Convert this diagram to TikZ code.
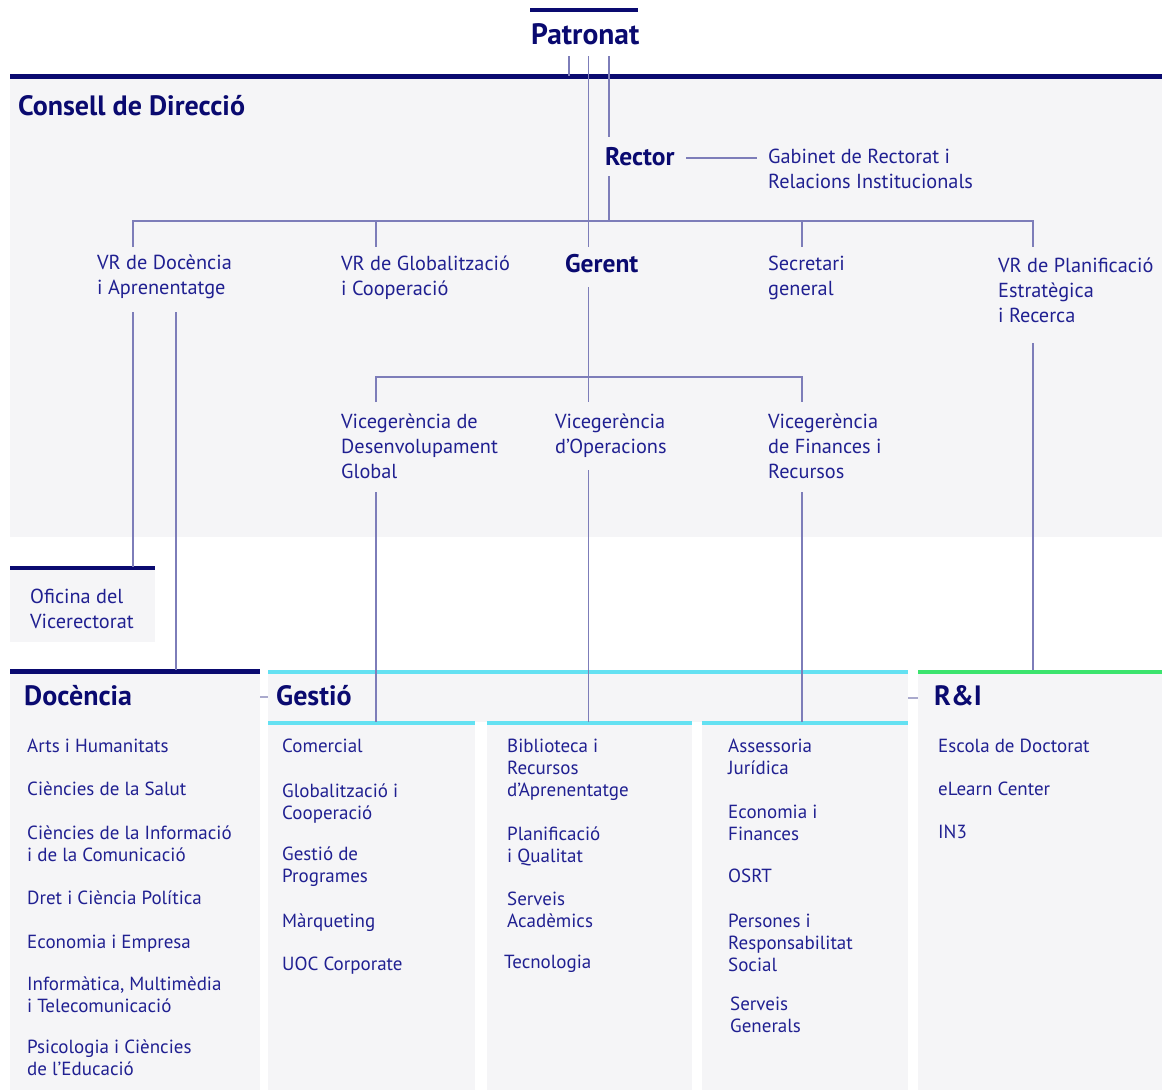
\documentclass[tikz,border=0pt]{standalone}
\usepackage{fontspec}
\setmainfont{PT Sans}
\definecolor{navy}{RGB}{10,10,112}
\definecolor{txtblue}{RGB}{32,32,145}
\definecolor{linec}{RGB}{125,125,185}
\definecolor{bgc}{RGB}{245,245,247}
\definecolor{cyanc}{RGB}{100,225,242}
\definecolor{greenc}{RGB}{60,228,110}
\definecolor{dashc}{RGB}{170,170,205}
\newcommand\ml[1]{\begin{tabular}[t]{@{}l@{}}#1\end{tabular}}
\begin{document}
\begin{tikzpicture}[x=1pt,y=-1pt,
  txt/.style={anchor=base west, inner sep=0pt, text=txtblue, font=\fontsize{20.3}{25}\selectfont},
  itm/.style={anchor=base west, inner sep=0pt, text=txtblue, font=\fontsize{19}{22}\selectfont},
  head/.style={anchor=base west, inner sep=0pt, text=navy, font=\bfseries\fontsize{28}{32}\selectfont},
  sub/.style={anchor=base west, inner sep=0pt, text=navy, font=\bfseries\fontsize{25.5}{28}\selectfont},
  conn/.style={draw=linec, line width=1.2pt},
  navybar/.style={draw=navy, line width=4.5pt},
  cyanbar/.style={draw=cyanc, line width=4.5pt},
  greenbar/.style={draw=greenc, line width=4.5pt},
  sep/.style={draw=dashc, line width=1.5pt},
  panel/.style={fill=bgc}]
\useasboundingbox (0,0) rectangle (1162,1092);
% backgrounds
\fill[panel] (10,78) rectangle (1162,537);
\fill[panel] (10,570) rectangle (155,642);
\fill[panel] (10,673) rectangle (260,1090);
\fill[panel] (268,673) rectangle (908,722);
\fill[panel] (268,724) rectangle (475,1090);
\fill[panel] (487,724) rectangle (692,1090);
\fill[panel] (702,724) rectangle (908,1090);
\fill[panel] (918,673) rectangle (1162,1090);
% bars
\draw[navybar] (530,10) -- (638,10);
\draw[navybar] (10,76.5) -- (1162,76.5);
\draw[navybar] (10,568) -- (155,568);
\draw[navybar] (10,671.5) -- (260,671.5);
\draw[cyanbar] (268,672) -- (908,672);
\draw[cyanbar] (268,723) -- (475,723);
\draw[cyanbar] (487,723) -- (692,723);
\draw[cyanbar] (702,723) -- (908,723);
\draw[greenbar] (918,672) -- (1162,672);
\draw[sep] (260,697) -- (268,697);
\draw[sep] (908,698) -- (918,698);
% headings
\node[head, font=\bfseries\fontsize{29.5}{32}\selectfont] (patronat) at (531,44) {Patronat};
\node[head] (consell) at (18,115) {Consell de Direcció};
\node[sub] (rector) at (605,165) {Rector};
\node[sub] (gerent) at (565,272) {Gerent};
\node[head] (docencia) at (24,705) {Docència};
\node[head] (gestio) at (276,705) {Gestió};
\node[head] (ri) at (934,705) {R\&I};
% upper texts
\node[txt] (gabinet) at (768,163) {\ml{Gabinet de Rectorat i\\Relacions Institucionals}};
\node[txt] (vrdoc) at (97,269) {\ml{VR de Docència\\i Aprenentatge}};
\node[txt] (vrglob) at (341,270) {\ml{VR de Globalització\\i Cooperació}};
\node[txt] (secretari) at (768,270) {\ml{Secretari\\general}};
\node[txt] (vrplan) at (998,272) {\ml{VR de Planificació\\Estratègica\\i Recerca}};
\node[txt] (vgdes) at (341,428) {\ml{Vicegerència de\\Desenvolupament\\Global}};
\node[txt] (vgop) at (555,428) {\ml{Vicegerència\\d’Operacions}};
\node[txt] (vgfin) at (768,428) {\ml{Vicegerència\\de Finances i\\Recursos}};
\node[txt] (oficina) at (30,603) {\ml{Oficina del\\Vicerectorat}};
% Docencia items
\node[itm] (d1) at (27,752) {Arts i Humanitats};
\node[itm] (d2) at (27,795) {Ciències de la Salut};
\node[itm] (d3) at (27,839) {\ml{Ciències de la Informació\\i de la Comunicació}};
\node[itm] (d4) at (27,904) {Dret i Ciència Política};
\node[itm] (d5) at (27,948) {Economia i Empresa};
\node[itm] (d6) at (27,990) {\ml{Informàtica, Multimèdia\\i Telecomunicació}};
\node[itm] (d7) at (27,1053) {\ml{Psicologia i Ciències\\de l’Educació}};
% Gestio col 1
\node[itm] (g1) at (282,752) {Comercial};
\node[itm] (g2) at (282,797) {\ml{Globalització i\\Cooperació}};
\node[itm] (g3) at (282,860) {\ml{Gestió de\\Programes}};
\node[itm] (g4) at (282,927) {Màrqueting};
\node[itm] (g5) at (282,970) {UOC Corporate};
% Gestio col 2
\node[itm] (o1) at (507,752) {\ml{Biblioteca i\\Recursos\\d’Aprenentatge}};
\node[itm] (o2) at (507,840) {\ml{Planificació\\i Qualitat}};
\node[itm] (o3) at (507,905) {\ml{Serveis\\Acadèmics}};
\node[itm] (o4) at (504,968) {Tecnologia};
% Gestio col 3
\node[itm] (f1) at (728,752) {\ml{Assessoria\\Jurídica}};
\node[itm] (f2) at (728,818) {\ml{Economia i\\Finances}};
\node[itm] (f3) at (728,882) {OSRT};
\node[itm] (f4) at (728,927) {\ml{Persones i\\Responsabilitat\\Social}};
\node[itm] (f5) at (730,1010) {\ml{Serveis\\Generals}};
% R&I
\node[itm] (r1) at (938,752) {Escola de Doctorat};
\node[itm] (r2) at (938,795) {eLearn Center};
\node[itm] (r3) at (938,838) {IN3};
% coordinates
\coordinate (pA) at (569,56);
\coordinate (pB) at (588.5,56);
\coordinate (pC) at (609,56);
\coordinate (topA) at (569,76);
\coordinate (rectTop) at (609,137);
\coordinate (rectBot) at (609,176);
\coordinate (hL) at (133,221);
\coordinate (hR) at (1033,221);
\coordinate (hC) at (609,221);
\coordinate (gerTop) at (588.5,247);
\coordinate (tDoc) at (133,247);
\coordinate (tGlob) at (376,247);
\coordinate (tSec) at (802,247);
\coordinate (tPlan) at (1033,247);
\coordinate (tGlobT) at (376,221);
\coordinate (tSecT) at (802,221);
\coordinate (rLineL) at (686,158);
\coordinate (rLineR) at (757,158);
\coordinate (gerBot) at (588.5,287);
\coordinate (vL) at (376,377);
\coordinate (vR) at (802,377);
\coordinate (vLb) at (376,402);
\coordinate (vCb) at (588.5,402);
\coordinate (vRb) at (802,402);
\coordinate (desBot) at (376,492);
\coordinate (opBot) at (588.5,470);
\coordinate (finBot) at (802,492);
\coordinate (desEnd) at (376,722);
\coordinate (opEnd) at (588.5,722);
\coordinate (finEnd) at (802,722);
\coordinate (docA) at (133,312);
\coordinate (docB) at (176,312);
\coordinate (ofiEnd) at (133,567);
\coordinate (docEnd) at (176,670);
\coordinate (planBot) at (1033,343);
\coordinate (planEnd) at (1033,670);
% connectors
\draw[conn] (pA) -- (topA);
\draw[conn] (pB) -- (gerTop);
\draw[conn] (pC) -- (rectTop);
\draw[conn] (rectBot) -- (hC);
\draw[conn] (rLineL) -- (rLineR);
\draw[conn] (tDoc) -- (hL) -- (hR) -- (tPlan);
\draw[conn] (tGlobT) -- (tGlob);
\draw[conn] (tSecT) -- (tSec);
\draw[conn] (gerBot) -- (vCb);
\draw[conn] (vLb) -- (vL) -- (vR) -- (vRb);
\draw[conn] (desBot) -- (desEnd);
\draw[conn] (opBot) -- (opEnd);
\draw[conn] (finBot) -- (finEnd);
\draw[conn] (docA) -- (ofiEnd);
\draw[conn] (docB) -- (docEnd);
\draw[conn] (planBot) -- (planEnd);
\end{tikzpicture}
\end{document}
